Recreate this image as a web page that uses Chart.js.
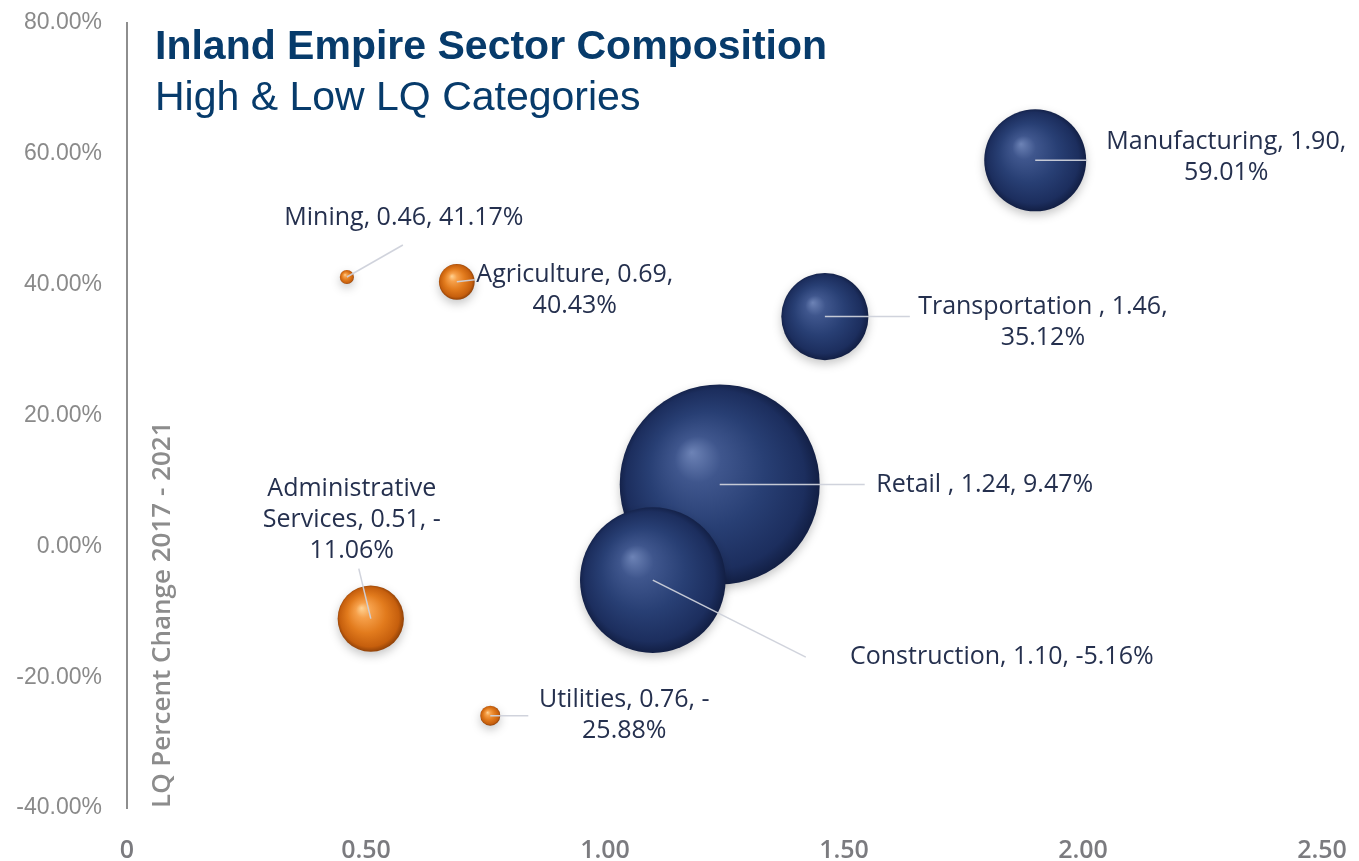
<!DOCTYPE html>
<html>
<head>
<meta charset="utf-8">
<title>Inland Empire Sector Composition</title>
<script src="https://cdn.jsdelivr.net/npm/chart.js@4.4.1/dist/chart.umd.min.js"></script>
<style>
  html, body { margin: 0; padding: 0; background: #ffffff; }
  #sectorChart { display: block; }
</style>
</head>
<body>
<canvas id="sectorChart" width="1359" height="861"></canvas>
<script>
// sector values: location quotient (x) and LQ % change 2017-2021 (y)
const sectors = ['Manufacturing', 'Transportation ', 'Retail ', 'Construction',
                 'Mining', 'Agriculture', 'Administrative Services', 'Utilities'];
const lqValues = [1.90, 1.46, 1.24, 1.10, 0.46, 0.69, 0.51, 0.76];
const pctChange = [59.01, 35.12, 9.47, -5.16, 41.17, 40.43, -11.06, -25.88];
// relative sector size, shown as bubble area
const sectorSize = [26, 19, 100, 53, 0.5, 3.2, 11, 1];

const xTicks = [0, 0.5, 1.0, 1.5, 2.0, 2.5];
const yTicks = [-40, -20, 0, 20, 40, 60, 80];

// label placement around each bubble: [dx, dy, wrap width, leader dx, leader dy]
const labelLayout = [
    [191, -3, 260, 52, 0],
    [218, 6, 270, 85, 0],
    [265, 0, 300, 145, 0],
    [349, 77, 340, 153, 77],
    [57, -59, 300, 56, -32],
    [118, 9, 220, 18, -2],
    [-19, -99, 190, -12, -50],
    [134, 0, 185, 38, 0]
];

const MAX_RADIUS = 100;
const maxSize = Math.max(...sectorSize);

function buildPoints(high) {
    const pts = [];
    sectors.forEach((name, i) => {
        if ((lqValues[i] >= 1) === high) {
            pts.push({
                x: lqValues[i],
                y: pctChange[i],
                r: MAX_RADIUS * Math.sqrt(sectorSize[i] / maxSize),
                idx: i
            });
        }
    });
    return pts;
}

// shaded sphere fill for each bubble
function sphereFill(stops, flat) {
    return function(context) {
        const chart = context.chart;
        const raw = context.raw;
        if (!chart.chartArea || !raw) return flat;
        const cx = chart.scales.x.getPixelForValue(raw.x);
        const cy = chart.scales.y.getPixelForValue(raw.y);
        const r = raw.r;
        const g = chart.ctx.createRadialGradient(cx - 0.28 * r, cy - 0.32 * r, 0, cx, cy, r * 1.05);
        stops.forEach(s => g.addColorStop(s[0], s[1]));
        return g;
    };
}

const navyStops = [[0, '#6d83b6'], [0.22, '#3f568d'], [0.55, '#283f74'], [0.85, '#1c2e5e'], [1, '#0f1a3c']];
const orangeStops = [[0, '#ffd394'], [0.22, '#f6a04a'], [0.55, '#e27b1d'], [0.85, '#c65f0d'], [1, '#803806']];

function wrapLabel(ctx, text, maxW) {
    const parts = text.split(/(?<=[\s-])/);
    const lines = [];
    let cur = '';
    parts.forEach(p => {
        const test = cur + p;
        if (cur && ctx.measureText(test.trimEnd()).width > maxW) {
            lines.push(cur.trimEnd());
            cur = p;
        } else {
            cur = test;
        }
    });
    if (cur) lines.push(cur.trimEnd());
    return lines;
}

const bubbleShadow = {
    id: 'bubbleShadow',
    beforeDatasetsDraw(chart) {
        const ctx = chart.ctx;
        ctx.save();
        ctx.shadowColor = 'rgba(0, 0, 0, 0.22)';
        ctx.shadowBlur = 10;
        ctx.shadowOffsetY = 4;
    },
    afterDatasetsDraw(chart) {
        chart.ctx.restore();
    }
};

const axisTitle = {
    id: 'axisTitle',
    beforeDatasetsDraw(chart) {
        const ctx = chart.ctx;
        ctx.save();
        ctx.translate(163, chart.chartArea.bottom);
        ctx.rotate(-Math.PI / 2);
        ctx.font = '600 26px "Open Sans", sans-serif';
        ctx.fillStyle = '#8c8c8c';
        ctx.textAlign = 'left';
        ctx.textBaseline = 'middle';
        ctx.fillText('LQ Percent Change 2017 - 2021', 0, 0);
        ctx.restore();
    }
};

const sectorLabels = {
    id: 'sectorLabels',
    afterDatasetsDraw(chart) {
        const ctx = chart.ctx;
        const xs = chart.scales.x, ys = chart.scales.y;
        ctx.save();
        ctx.font = '25px "Open Sans", sans-serif';
        sectors.forEach((name, i) => {
            const cx = xs.getPixelForValue(lqValues[i]);
            const cy = ys.getPixelForValue(pctChange[i]);
            const [dx, dy, wrapW, lx, ly] = labelLayout[i];

            ctx.strokeStyle = 'rgba(205, 209, 218, 0.95)';
            ctx.lineWidth = 1.5;
            ctx.beginPath();
            ctx.moveTo(cx, cy);
            ctx.lineTo(cx + lx, cy + ly);
            ctx.stroke();

            const text = name + ', ' + lqValues[i].toFixed(2) + ', ' + pctChange[i].toFixed(2) + '%';
            const lines = wrapLabel(ctx, text, wrapW);
            const lineH = 31;
            ctx.fillStyle = '#25304e';
            ctx.textAlign = 'center';
            ctx.textBaseline = 'middle';
            lines.forEach((ln, k) => {
                const y = cy + dy + (k - (lines.length - 1) / 2) * lineH;
                ctx.fillText(ln, cx + dx, y);
            });
        });
        ctx.restore();
    }
};

const chartTitle = {
    id: 'chartTitle',
    afterDraw(chart) {
        const ctx = chart.ctx;
        ctx.save();
        ctx.fillStyle = '#073b6b';
        ctx.textAlign = 'left';
        ctx.textBaseline = 'alphabetic';
        ctx.font = 'bold 41px "Liberation Sans", Arial, sans-serif';
        ctx.fillText('Inland Empire Sector Composition', 155, 59);
        ctx.font = '41px "Liberation Sans", Arial, sans-serif';
        ctx.fillText('High & Low LQ Categories', 155, 110);
        ctx.restore();
    }
};

const ctx = document.getElementById('sectorChart');

new Chart(ctx, {
    type: 'bubble',
    data: {
        datasets: [{
            label: 'High LQ',
            data: buildPoints(true),
            backgroundColor: sphereFill(navyStops, '#283f74'),
            borderWidth: 0
        },
        {
            label: 'Low LQ',
            data: buildPoints(false),
            backgroundColor: sphereFill(orangeStops, '#e27b1d'),
            borderWidth: 0
        }]
    },
    options: {
        responsive: false,
        devicePixelRatio: 1,
        animation: false,
        events: [],
        layout: {
            autoPadding: false,
            padding: { top: 23, right: 37, bottom: 0, left: 0 }
        },
        plugins: {
            legend: { display: false },
            tooltip: { enabled: false }
        },
        scales: {
            x: {
                type: 'linear',
                min: xTicks[0],
                max: xTicks[xTicks.length - 1],
                afterFit: scale => {
                    scale.height = 53;
                    scale.paddingLeft = 0;
                    scale.paddingRight = 0;
                },
                afterBuildTicks: scale => { scale.ticks = xTicks.map(v => ({ value: v })); },
                grid: { display: false, drawTicks: false },
                border: { display: false },
                ticks: {
                    padding: 28,
                    color: '#7b7b7f',
                    font: { family: '"Open Sans", sans-serif', size: 25, weight: '600' },
                    callback: v => v === 0 ? '0' : v.toFixed(2)
                }
            },
            y: {
                type: 'linear',
                min: yTicks[0],
                max: yTicks[yTicks.length - 1],
                afterFit: scale => {
                    scale.width = 127;
                    scale.paddingTop = 0;
                    scale.paddingBottom = 0;
                },
                afterBuildTicks: scale => { scale.ticks = yTicks.map(v => ({ value: v })); },
                grid: { display: false, drawTicks: false },
                border: { display: true, color: '#8e8e8e', width: 2 },
                ticks: {
                    padding: 25,
                    color: '#8a8a8a',
                    font: { family: '"Liberation Sans", Arial, sans-serif', size: 23 },
                    callback: v => v.toFixed(2) + '%'
                }
            }
        }
    },
    plugins: [axisTitle, bubbleShadow, sectorLabels, chartTitle]
});
</script>
</body>
</html>
